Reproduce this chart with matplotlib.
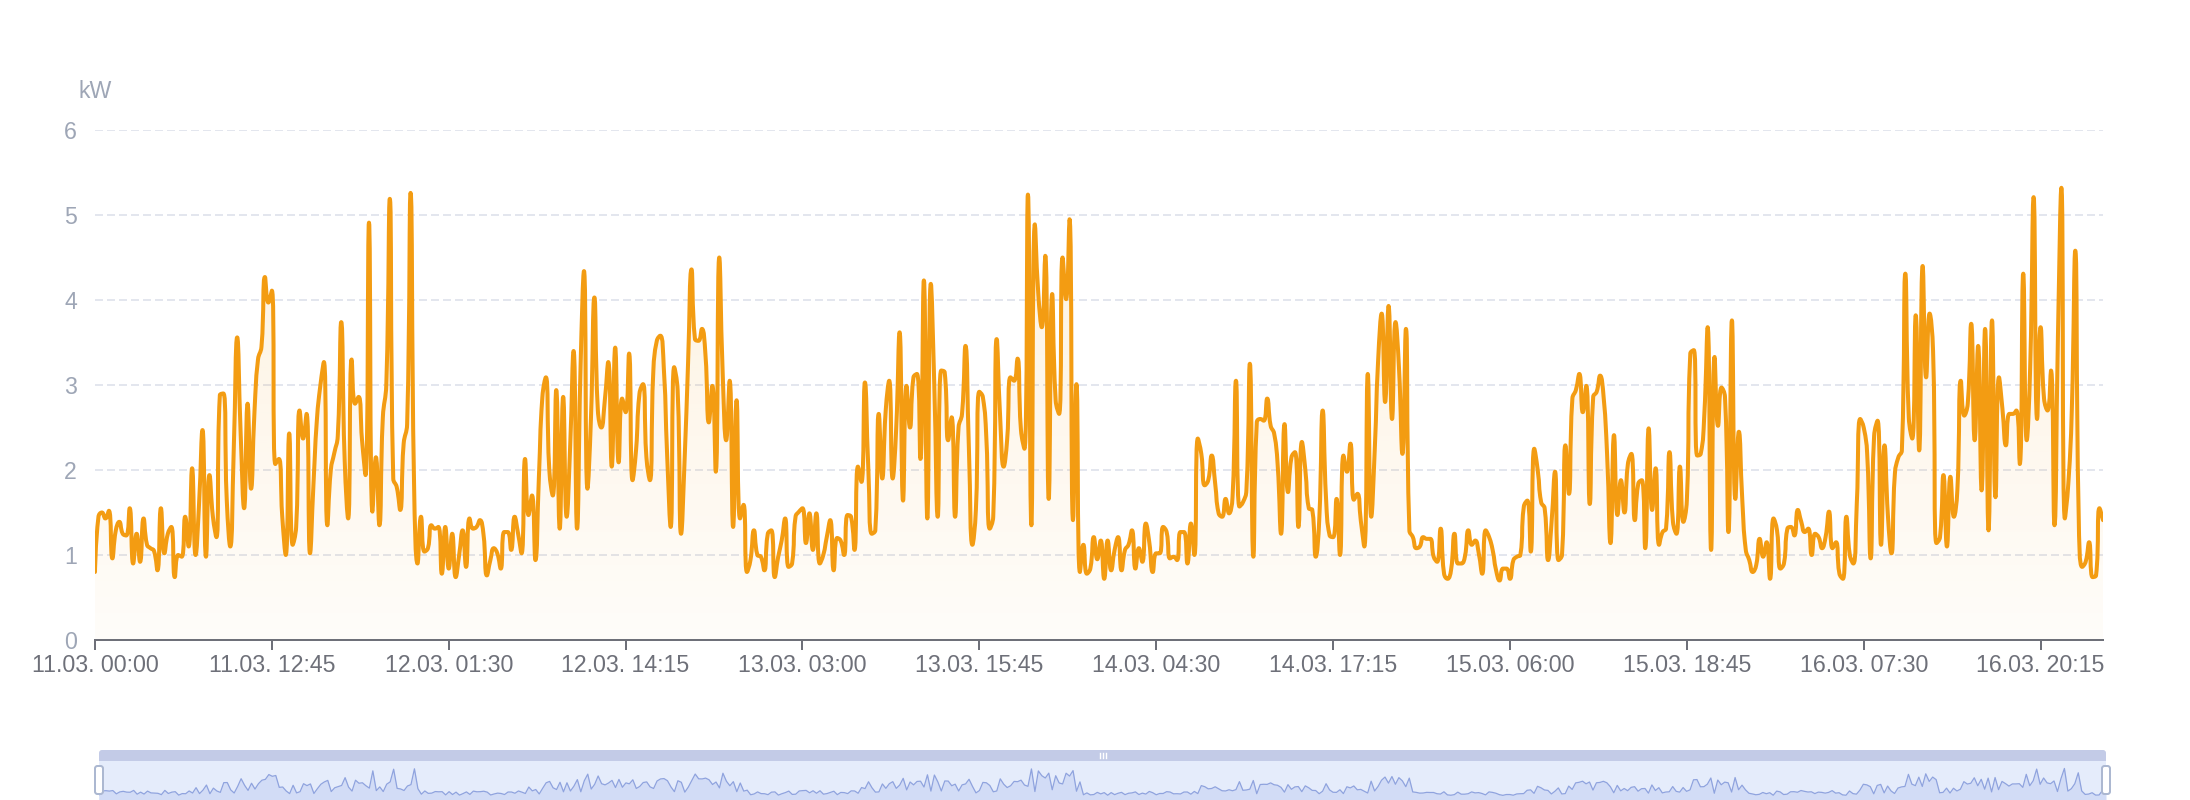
import numpy as np
import pandas as pd
import matplotlib
matplotlib.use("Agg")
import matplotlib.pyplot as plt
from matplotlib.path import Path
from matplotlib.patches import PathPatch, FancyBboxPatch, Rectangle
import matplotlib.dates as mdates

plt.rcParams["font.family"] = ["Liberation Sans", "DejaVu Sans"]

# ─── data: power in kW, one reading every 15 minutes ───
kw_11 = [0.80, 1.45, 1.50, 1.43, 1.52, 0.96, 1.29, 1.39, 1.25, 1.23, 1.55, 0.90,
         1.25, 0.92, 1.43, 1.12, 1.08, 1.05, 0.82, 1.55, 1.02, 1.25, 1.33, 0.74,
         1.00, 0.98, 1.45, 1.10, 2.02, 1.00, 1.60, 2.47, 0.98, 1.94, 1.45, 1.21,
         2.88, 2.90, 1.64, 1.10, 2.23, 3.56, 2.43, 1.55, 2.78, 1.78, 2.70, 3.30,
         3.45, 4.27, 3.97, 4.11, 2.07, 2.13, 1.45, 1.00, 2.43, 1.12, 1.33, 2.70,
         2.37, 2.66, 1.02, 1.84, 2.60, 3.00, 3.27, 1.35, 2.00, 2.20, 2.40, 3.74,
         2.11, 1.43, 3.30, 2.78, 2.86, 2.35, 1.94, 4.91, 1.51, 2.15, 1.35, 2.62,
         3.01, 5.19, 1.90, 1.80, 1.53, 2.31, 2.54, 5.26, 1.84, 0.90, 1.45, 1.04]
kw_12 = [1.08, 1.35, 1.31, 1.33, 0.78, 1.33, 0.84, 1.25, 0.74, 1.00, 1.29, 0.86,
         1.43, 1.31, 1.33, 1.41, 1.25, 0.76, 0.94, 1.08, 1.02, 0.84, 1.27, 1.27,
         1.06, 1.45, 1.25, 1.02, 2.13, 1.47, 1.70, 0.94, 1.92, 2.86, 3.09, 2.00,
         1.70, 2.94, 1.31, 2.86, 1.45, 2.27, 3.40, 1.31, 3.20, 4.34, 1.78, 2.60,
         4.03, 2.70, 2.50, 2.82, 3.27, 2.04, 3.44, 2.09, 2.84, 2.68, 3.37, 1.88,
         2.23, 2.90, 3.01, 2.15, 1.88, 3.17, 3.52, 3.58, 3.21, 2.15, 1.33, 3.21,
         2.94, 1.25, 2.11, 3.25, 4.36, 3.54, 3.52, 3.66, 3.37, 2.56, 2.99, 1.98,
         4.50, 3.13, 2.35, 3.05, 1.33, 2.82, 1.43, 1.59, 0.80, 0.94, 1.29, 1.00]
kw_13 = [0.98, 0.82, 1.25, 1.29, 0.74, 0.98, 1.17, 1.43, 0.86, 0.90, 1.45, 1.51,
         1.55, 1.14, 1.49, 1.06, 1.49, 0.90, 1.00, 1.21, 1.41, 0.82, 1.20, 1.17,
         1.00, 1.47, 1.45, 1.06, 2.04, 1.86, 3.03, 2.00, 1.25, 1.29, 2.66, 1.90,
         2.70, 3.05, 1.90, 2.47, 3.62, 1.64, 2.99, 2.50, 3.09, 3.13, 2.13, 4.23,
         1.43, 4.19, 3.01, 1.45, 3.17, 3.15, 2.35, 2.62, 1.45, 2.50, 2.66, 3.46,
         2.23, 1.12, 1.53, 2.92, 2.86, 2.39, 1.31, 1.45, 3.54, 2.62, 2.04, 2.35,
         3.09, 3.05, 3.31, 2.47, 2.25, 5.24, 1.35, 4.89, 4.07, 3.68, 4.52, 1.66,
         4.07, 2.82, 2.66, 4.50, 4.01, 4.95, 1.41, 3.01, 0.80, 1.12, 0.78, 0.84]
kw_14 = [1.21, 0.95, 1.17, 0.72, 1.17, 0.82, 1.06, 1.21, 0.82, 1.06, 1.12, 1.29,
         0.84, 1.08, 0.92, 1.37, 1.15, 0.80, 1.02, 1.02, 1.33, 1.27, 0.96, 0.98,
         0.94, 1.27, 1.27, 0.90, 1.37, 1.00, 2.37, 2.19, 1.82, 1.88, 2.17, 1.84,
         1.49, 1.45, 1.66, 1.49, 1.68, 3.05, 1.57, 1.62, 1.76, 3.25, 0.98, 2.56,
         2.60, 2.58, 2.84, 2.52, 2.43, 2.07, 1.25, 2.54, 1.74, 2.15, 2.21, 1.33,
         2.33, 2.00, 1.55, 1.53, 0.98, 1.41, 2.70, 1.64, 1.23, 1.21, 1.66, 1.00,
         2.17, 1.98, 2.31, 1.65, 1.72, 1.40, 1.10, 3.13, 1.45, 2.23, 3.30, 3.84,
         2.80, 3.93, 2.60, 3.74, 3.20, 2.19, 3.66, 1.29, 1.21, 1.08, 1.10, 1.21]
kw_15 = [1.19, 1.19, 0.98, 0.92, 1.31, 0.78, 0.72, 0.82, 1.25, 0.90, 0.90, 0.98,
         1.29, 1.12, 1.17, 1.02, 0.78, 1.29, 1.21, 1.06, 0.82, 0.70, 0.84, 0.84,
         0.72, 0.94, 0.98, 1.00, 1.57, 1.64, 1.04, 2.25, 2.00, 1.62, 1.55, 0.94,
         1.39, 1.98, 0.94, 1.00, 2.29, 1.72, 2.84, 2.94, 3.13, 2.68, 2.99, 1.60,
         2.86, 2.92, 3.11, 2.86, 2.19, 1.14, 2.41, 1.47, 1.88, 1.50, 2.07, 2.19,
         1.41, 1.84, 1.88, 1.08, 2.49, 1.53, 2.02, 1.12, 1.27, 1.31, 2.21, 1.39,
         1.25, 2.04, 1.39, 1.64, 3.37, 3.41, 2.17, 2.19, 2.62, 3.68, 1.06, 3.33,
         2.52, 2.97, 2.86, 1.27, 3.76, 1.66, 2.45, 1.64, 1.06, 0.94, 0.80, 0.88]
kw_16 = [1.19, 0.98, 1.15, 0.72, 1.43, 1.29, 0.84, 0.90, 1.31, 1.33, 1.23, 1.53,
         1.39, 1.27, 1.31, 1.00, 1.25, 1.21, 1.08, 1.21, 1.51, 1.08, 1.15, 0.78,
         0.72, 1.45, 1.00, 0.90, 1.60, 2.60, 2.50, 2.19, 0.96, 2.40, 2.58, 1.12,
         2.29, 1.45, 1.02, 1.96, 2.15, 2.23, 4.31, 2.62, 2.37, 3.82, 2.23, 4.40,
         3.09, 3.84, 3.40, 1.14, 1.21, 1.94, 1.10, 1.92, 1.45, 1.76, 3.05, 2.64,
         2.78, 3.72, 2.35, 3.46, 1.76, 3.66, 1.29, 3.76, 1.68, 3.09, 2.72, 2.29,
         2.66, 2.66, 2.70, 2.07, 4.31, 2.35, 3.21, 5.21, 2.60, 3.68, 2.84, 2.70,
         3.17, 1.35, 3.56, 5.32, 1.43, 1.84, 2.70, 4.58, 1.45, 0.86, 0.92, 1.15]
kw_17 = [0.74, 0.76, 1.55, 1.41]

START = "2024-03-11 00:00"
y_ticks = [0, 1, 2, 3, 4, 5, 6]
unit_label = "kW"

# ─── layout (pixels of the 2190x800 picture) ───
W, H = 2190, 800
PLOT_L, PLOT_R, PLOT_T, PLOT_B = 95, 2103, 130, 640
SL_L, SL_R, SL_BAR_T, SL_BODY_T = 99, 2106, 750, 761

ORANGE = "#f39c12"
AXIS_C = "#6e7079"
YLAB_C = "#9ea6b6"
GRID_C = "#e3e6ee"

values = np.array(kw_11 + kw_12 + kw_13 + kw_14 + kw_15 + kw_16 + kw_17)
times = pd.date_range(START, periods=len(values), freq="15min")
tick_times = pd.date_range(START, periods=12, freq="765min")
tnum = mdates.date2num(times.to_pydatetime())


def smooth_path(x, y, smooth=0.5):
    # bezier smoothing like echarts' line "smooth: true" (with clamping)
    n = len(x)
    cin = np.column_stack([x, y]).astype(float)
    cout = cin.copy()
    for i in range(1, n - 1):
        px, py, cx, cy, nx, ny = x[i-1], y[i-1], x[i], y[i], x[i+1], y[i+1]
        l0 = max(np.hypot(cx - px, cy - py), 1e-9)
        l1 = max(np.hypot(nx - cx, ny - cy), 1e-9)
        r = l1 / (l0 + l1)
        ncx = np.clip(cx + (nx - px) * smooth * r, min(nx, cx), max(nx, cx))
        ncy = np.clip(cy + (ny - py) * smooth * r, min(ny, cy), max(ny, cy))
        vx, vy = ncx - cx, ncy - cy
        pcx = np.clip(cx - vx * l0 / l1, min(px, cx), max(px, cx))
        pcy = np.clip(cy - vy * l0 / l1, min(py, cy), max(py, cy))
        vx, vy = cx - pcx, cy - pcy
        cin[i] = (pcx, pcy)
        cout[i] = (cx + vx * l1 / l0, cy + vy * l1 / l0)
    verts = [(x[0], y[0])]
    codes = [Path.MOVETO]
    for i in range(1, n):
        verts += [tuple(cout[i-1]), tuple(cin[i]), (x[i], y[i])]
        codes += [Path.CURVE4] * 3
    return np.array(verts), codes


fig = plt.figure(figsize=(W / 100, H / 100), dpi=100)
ax = fig.add_axes([PLOT_L / W, 1 - PLOT_B / H, (PLOT_R - PLOT_L) / W, (PLOT_B - PLOT_T) / H])

# smoothing done in pixel space, then mapped back to data units
sx = (PLOT_R - PLOT_L) / (len(values) - 1)
sy = (PLOT_B - PLOT_T) / 6.0
idx = np.arange(len(values))
v, codes = smooth_path(idx * sx, values * sy)
v[:, 0] = tnum[0] + (v[:, 0] / sx) * (tnum[1] - tnum[0])
v[:, 1] = v[:, 1] / sy

line_path = Path(v, codes)
fill_verts = np.vstack([v, [[tnum[-1], 0], [tnum[0], 0], [tnum[0], 0]]])
fill_codes = codes + [Path.LINETO, Path.LINETO, Path.CLOSEPOLY]
fill_patch = PathPatch(Path(fill_verts, fill_codes), facecolor="none", edgecolor="none")
ax.add_patch(fill_patch)

# soft gradient under the line
grad = np.linspace(0.0, 1.0, 256).reshape(-1, 1)
rgba = np.zeros((256, 1, 4))
rgba[..., 0], rgba[..., 1], rgba[..., 2] = 243 / 255, 156 / 255, 18 / 255
rgba[..., 3] = 0.025 + 0.11 * grad
img = ax.imshow(rgba, aspect="auto", origin="lower", zorder=1,
                extent=[tnum[0], tnum[-1], 0, values.max()])
img.set_clip_path(fill_patch)

ax.add_patch(PathPatch(line_path, facecolor="none", edgecolor=ORANGE, lw=2.9,
                       joinstyle="round", capstyle="round", zorder=3))

ax.set_xlim(tnum[0], tnum[-1])
ax.set_ylim(0, 6)
for s in ["top", "right", "left"]:
    ax.spines[s].set_visible(False)
ax.spines["bottom"].set_color(AXIS_C)
ax.spines["bottom"].set_linewidth(1.44)
ax.spines["bottom"].set_zorder(4)

for yv in y_ticks[1:]:
    ax.axhline(yv, color=GRID_C, lw=1.44, dashes=(4, 2), zorder=0)

ax.set_yticks(y_ticks)
ax.set_yticklabels([str(t) for t in y_ticks])
ax.tick_params(axis="y", length=0, pad=13, labelsize=16.7, labelcolor=YLAB_C)

ax.set_xticks(mdates.date2num(tick_times.to_pydatetime()))
ax.set_xticklabels([t.strftime("%d.%m. %H:%M") for t in tick_times])
ax.tick_params(axis="x", length=7.2, width=1.44, color=AXIS_C, pad=3,
               labelsize=16.7, labelcolor=AXIS_C)

fig.text(PLOT_L / W, 1 - 98 / H, unit_label, ha="center", va="baseline",
         fontsize=16.7, color=YLAB_C)

# ─── data zoom slider (cut off by the bottom edge) ───
chrome = fig.add_axes([0, 0, 1, 1], zorder=-2)
chrome.set_xlim(0, W)
chrome.set_ylim(H, 0)
chrome.axis("off")
chrome.add_patch(Rectangle((SL_L, SL_BODY_T), SL_R - SL_L, H - SL_BODY_T,
                           facecolor="#e5ecfb", edgecolor="none"))

sl = fig.add_axes([SL_L / W, 0, (SL_R - SL_L) / W, (H - SL_BODY_T) / H], zorder=-1)
sl.patch.set_alpha(0)
sl.fill_between(idx, values, -1, color="#d2dcf6", lw=0)
sl.plot(idx, values, color="#8fa3de", lw=0.9)
sl.set_xlim(0, len(values) - 1)
sl.set_ylim(-0.1, 6.6)
sl.axis("off")

top = fig.add_axes([0, 0, 1, 1], zorder=5)
top.set_xlim(0, W)
top.set_ylim(H, 0)
top.axis("off")
top.add_patch(FancyBboxPatch((SL_L, SL_BAR_T), SL_R - SL_L, SL_BODY_T - SL_BAR_T,
                             boxstyle="round,pad=0,rounding_size=3",
                             facecolor="#c3cbe7", edgecolor="none"))
top.add_patch(Rectangle((SL_L, SL_BAR_T + 5), SL_R - SL_L, SL_BODY_T - SL_BAR_T - 5,
                        facecolor="#c3cbe7", edgecolor="none"))
mid = (SL_L + SL_R) / 2
for dx in (-3, 0, 3):
    top.plot([mid + dx, mid + dx], [SL_BAR_T + 3, SL_BAR_T + 8], color="white", lw=1)
for hx in (SL_L, SL_R):
    top.add_patch(FancyBboxPatch((hx - 4, 766), 8, 28,
                                 boxstyle="round,pad=0,rounding_size=2.5",
                                 facecolor="white", edgecolor="#acb8d1", lw=1.44))

fig.savefig("out.png", dpi=100)
